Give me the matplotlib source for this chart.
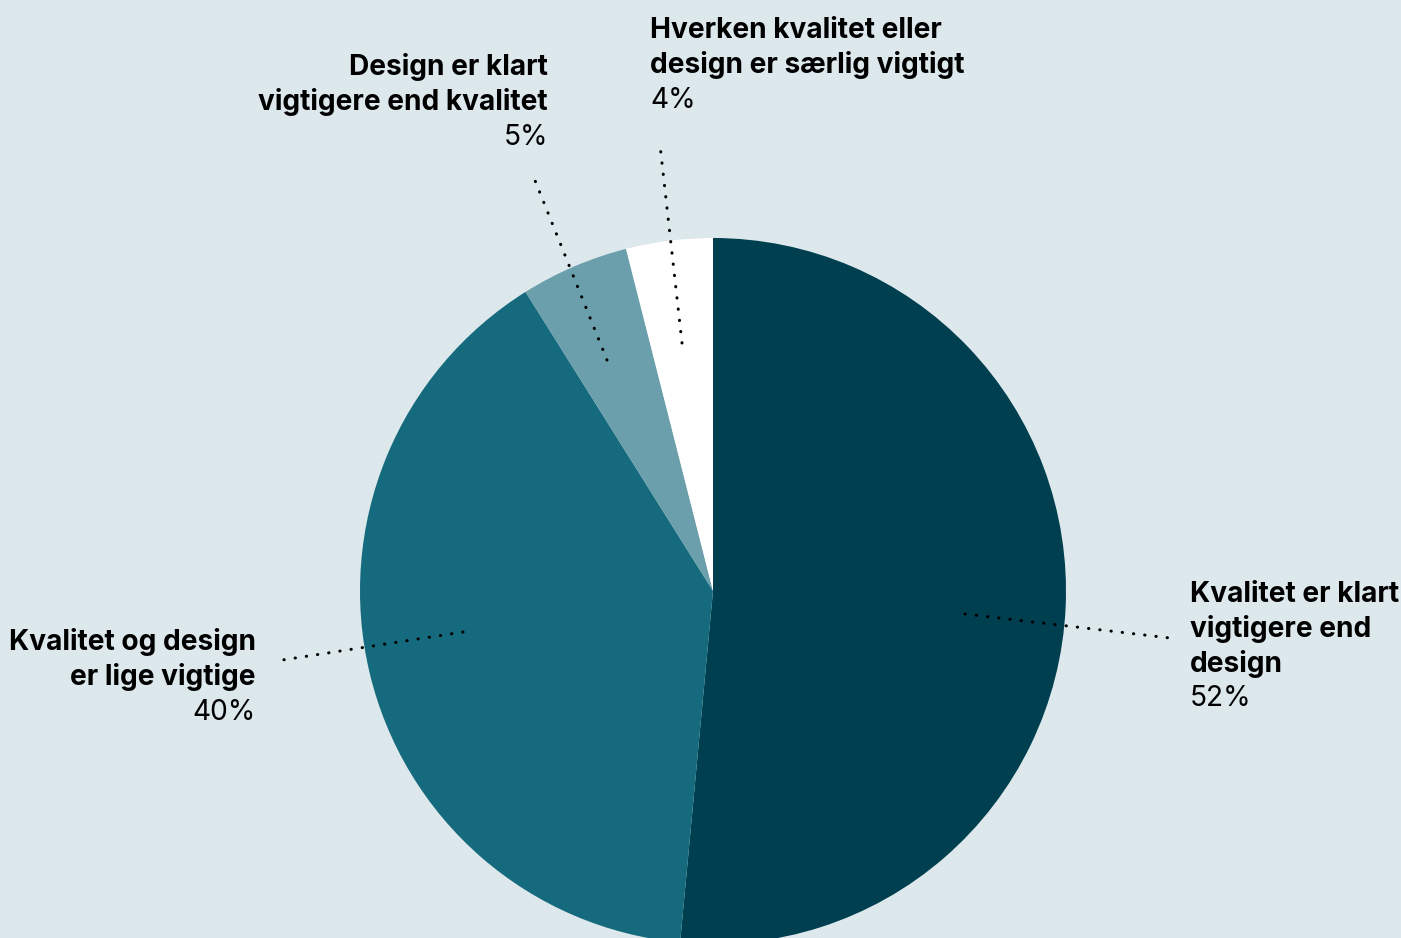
import matplotlib.pyplot as plt

plt.rcParams['font.family'] = ['Inter', 'DejaVu Sans']

# survey answers, clockwise from 12 o'clock
labels = [
    "Kvalitet er klart\nvigtigere end\ndesign",
    "Kvalitet og design\ner lige vigtige",
    "Design er klart\nvigtigere end kvalitet",
    "Hverken kvalitet eller\ndesign er særlig vigtigt",
]
shares = [52, 40, 5, 4]
colors = ["#003f4f", "#156b7d", "#6c9fac", "#ffffff"]
bg = "#dde8ec"

W, H = 1401, 938
fig = plt.figure(figsize=(W / 100, H / 100), dpi=100, facecolor=bg)
ax = fig.add_axes([0, 0, 1, 1])
ax.set_facecolor(bg)

cx, cy, r = 713, H - 591, 353
ax.pie(shares, colors=colors, startangle=90, counterclock=False,
       center=(cx, cy), radius=r, wedgeprops=dict(linewidth=0))
ax.set_xlim(0, W)
ax.set_ylim(0, H)
ax.set_aspect('equal')
ax.axis('off')

# label anchor (pixel coords from top-left), alignment, and leader line ends
layout = [
    dict(x=1190, y=594, ha='left', line=((965, 614), (1170, 638))),
    dict(x=256, y=642, ha='right', line=((463, 632), (276, 661))),
    dict(x=548, y=67, ha='right', line=((607, 360), (532, 173))),
    dict(x=650, y=30, ha='left', line=((682, 343), (660, 145))),
]

step = 35
for lab, val, lay in zip(labels, shares, layout):
    lines = lab.split("\n")
    for i, ln in enumerate(lines):
        ax.text(lay['x'], H - (lay['y'] + i * step), ln, ha=lay['ha'], va='center',
                fontsize=20.2, fontweight='bold', color='#000000')
    ax.text(lay['x'], H - (lay['y'] + len(lines) * step), f"{val}%", ha=lay['ha'],
            va='center', fontsize=20.2, color='#000000')
    (x0, y0), (x1, y1) = lay['line']
    ax.plot([x0, x1], [H - y0, H - y1], color='black', linewidth=2.2,
            linestyle=(0, (0.1, 3.6)), dash_capstyle='round')

fig.savefig("out.png", dpi=100, facecolor=bg)
